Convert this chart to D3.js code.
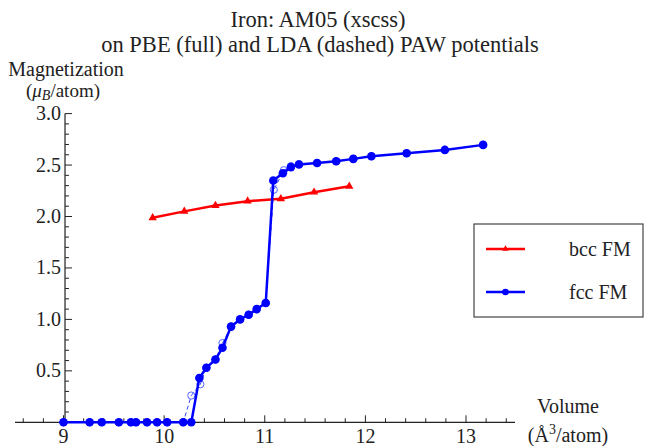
<!DOCTYPE html>
<html>
<head>
<meta charset="utf-8">
<script src="https://cdn.jsdelivr.net/npm/d3@7.9.0/dist/d3.min.js"></script>
<style>
  body { margin: 0; background: #fff; }
  svg { font-family: "Liberation Serif", "DejaVu Serif", serif; }
</style>
</head>
<body>
<svg id="chart" width="645" height="446"></svg>
<script>
// fcc FM, PBE (full line, filled circles)
const fccVol = [9.0, 9.26, 9.38, 9.55, 9.67, 9.72, 9.83, 9.93, 10.03, 10.19, 10.27,
    10.35, 10.42, 10.51, 10.58, 10.665, 10.755, 10.84, 10.92, 11.01,
    11.085, 11.18, 11.26, 11.34, 11.52, 11.71, 11.88, 12.06, 12.41, 12.79, 13.17];
const fccPBE = [0, 0, 0, 0, 0, 0, 0, 0, 0, 0, 0,
    0.43, 0.53, 0.61, 0.725, 0.93, 1.0, 1.045, 1.10, 1.16,
    2.35, 2.42, 2.48, 2.505, 2.52, 2.537, 2.56, 2.585, 2.615, 2.647, 2.696];
// fcc FM, LDA (dashed line, open circles)
const fccLdaVol = [9.0, 9.26, 9.38, 9.55, 9.67, 9.72, 9.83, 9.93, 10.03, 10.19,
    10.27, 10.36, 10.42, 10.51, 10.58, 10.665, 10.755, 10.84, 10.92, 11.01,
    11.09, 11.19, 11.26, 11.34, 11.52, 11.71, 11.88, 12.06, 12.41, 12.79, 13.17];
const fccLDA = [0, 0, 0, 0, 0, 0, 0, 0, 0, 0,
    0.26, 0.37, 0.53, 0.61, 0.77, 0.93, 1.0, 1.045, 1.10, 1.16,
    2.26, 2.45, 2.49, 2.51, 2.52, 2.537, 2.56, 2.585, 2.615, 2.647, 2.696];
// bcc FM
const bccVol = [9.886, 10.20, 10.51, 10.83, 11.16, 11.49, 11.84];
const bccMag = [1.987, 2.05, 2.107, 2.149, 2.172, 2.236, 2.294];

const xTicks = [9, 10, 11, 12, 13];
const yTicks = [0.5, 1.0, 1.5, 2.0, 2.5, 3.0];
const legendLabels = ["bcc FM", "fcc FM"];

const svg = d3.select("#chart");
const x = d3.scaleLinear().domain([9, 13]).range([63.5, 466]);
const y = d3.scaleLinear().domain([0, 3]).range([422.3, 113.6]);
const axisColor = "#222";
const y0 = y(0), xAxisAt = x(9.015);

// x axis
svg.append("line").attr("x1", 15).attr("x2", 515).attr("y1", y0).attr("y2", y0)
  .attr("stroke", axisColor).attr("stroke-width", 1.2);
const xMinor = d3.range(8.6, 13.45, 0.2).filter(v => Math.abs(v - Math.round(v)) > 0.01);
svg.selectAll(".xminor").data(xMinor).join("line")
  .attr("x1", d => x(d)).attr("x2", d => x(d)).attr("y1", y0).attr("y2", y0 - 4)
  .attr("stroke", axisColor).attr("stroke-width", 1);
svg.selectAll(".xmajor").data(xTicks).join("line")
  .attr("x1", d => x(d)).attr("x2", d => x(d)).attr("y1", y0).attr("y2", y0 - 7)
  .attr("stroke", axisColor).attr("stroke-width", 1);
svg.selectAll(".xlab").data(xTicks).join("text")
  .attr("x", d => x(d)).attr("y", 443).attr("text-anchor", "middle")
  .attr("font-size", 20).attr("fill", "#222").text(d => d);

// y axis
svg.append("line").attr("x1", xAxisAt).attr("x2", xAxisAt).attr("y1", y0).attr("y2", y(3))
  .attr("stroke", axisColor).attr("stroke-width", 1.2);
const yMinor = d3.range(1, 30).map(i => i / 10).filter(v => Math.abs(v * 2 - Math.round(v * 2)) > 0.01);
svg.selectAll(".yminor").data(yMinor).join("line")
  .attr("x1", xAxisAt).attr("x2", xAxisAt + 4).attr("y1", d => y(d)).attr("y2", d => y(d))
  .attr("stroke", axisColor).attr("stroke-width", 1);
svg.selectAll(".ymajor").data(yTicks).join("line")
  .attr("x1", xAxisAt).attr("x2", xAxisAt + 7).attr("y1", d => y(d)).attr("y2", d => y(d))
  .attr("stroke", axisColor).attr("stroke-width", 1);
svg.selectAll(".ylab").data(yTicks).join("text")
  .attr("x", 61).attr("y", d => y(d) + 6.5).attr("text-anchor", "end")
  .attr("font-size", 20).attr("fill", "#222").text(d => d.toFixed(1));

// titles and axis labels
svg.append("text").attr("x", 318).attr("y", 27).attr("text-anchor", "middle")
  .attr("font-size", 22.5).attr("fill", "#222").text("Iron: AM05 (xscss)");
svg.append("text").attr("x", 320).attr("y", 52).attr("text-anchor", "middle")
  .attr("font-size", 22.5).attr("fill", "#222").text("on PBE (full) and LDA (dashed) PAW potentials");

svg.append("text").attr("x", 66).attr("y", 76).attr("text-anchor", "middle")
  .attr("font-size", 20).attr("fill", "#222").text("Magnetization");
const yl = svg.append("text").attr("x", 63).attr("y", 97).attr("text-anchor", "middle")
  .attr("font-size", 19).attr("fill", "#222");
yl.append("tspan").text("(");
yl.append("tspan").attr("font-style", "italic").text("μ");
yl.append("tspan").attr("font-style", "italic").attr("font-size", 14).attr("dy", 3).text("B");
yl.append("tspan").attr("dy", -3).text("/atom)");

svg.append("text").attr("x", 568).attr("y", 413).attr("text-anchor", "middle")
  .attr("font-size", 20).attr("fill", "#222").text("Volume");
const xl = svg.append("text").attr("x", 568).attr("y", 442).attr("text-anchor", "middle")
  .attr("font-size", 20).attr("fill", "#222");
xl.append("tspan").text("(Å");
xl.append("tspan").attr("font-size", 14).attr("dy", -8).text("3");
xl.append("tspan").attr("dy", 8).text("/atom)");

// series
const line = d3.line().x(d => x(d[0])).y(d => y(d[1]));
const tri = d3.symbol().type(d3.symbolTriangle).size(30);

const fccL = fccLdaVol.map((v, i) => [v, fccLDA[i]]);
svg.append("path").datum(fccL).attr("d", line).attr("fill", "none")
  .attr("stroke", "#3344ff").attr("stroke-width", 1).attr("stroke-dasharray", "4,3");
svg.selectAll(".ldaPt").data(fccL).join("circle")
  .attr("cx", d => x(d[0])).attr("cy", d => y(d[1])).attr("r", 3.6)
  .attr("fill", "none").attr("stroke", "#5566ff").attr("stroke-width", 1);

const bcc = bccVol.map((v, i) => [v, bccMag[i]]);
svg.append("path").datum(bcc).attr("d", line).attr("fill", "none")
  .attr("stroke", "#ff0000").attr("stroke-width", 2.5);
svg.selectAll(".bccPt").data(bcc).join("path")
  .attr("d", tri).attr("transform", d => `translate(${x(d[0])},${y(d[1])})`)
  .attr("fill", "#ff0000");

const fcc = fccVol.map((v, i) => [v, fccPBE[i]]);
svg.append("path").datum(fcc).attr("d", line).attr("fill", "none")
  .attr("stroke", "#0000ff").attr("stroke-width", 2.5);
svg.selectAll(".fccPt").data(fcc).join("circle")
  .attr("cx", d => x(d[0])).attr("cy", d => y(d[1])).attr("r", 4.3)
  .attr("fill", "#0000ff");

// legend
const lg = svg.append("g");
lg.append("rect").attr("x", 474).attr("y", 224).attr("width", 169).attr("height", 93)
  .attr("fill", "#fff").attr("stroke", "#444").attr("stroke-width", 1.2);
const legendColors = ["#ff0000", "#0000ff"];
legendLabels.forEach((lab, i) => {
  const ly = 249 + i * 43;
  lg.append("line").attr("x1", 486).attr("x2", 525).attr("y1", ly).attr("y2", ly)
    .attr("stroke", legendColors[i]).attr("stroke-width", 2.5);
  if (i === 0) {
    lg.append("path").attr("d", d3.symbol().type(d3.symbolTriangle).size(18))
      .attr("transform", `translate(505.5,${ly})`).attr("fill", legendColors[i]);
  } else {
    lg.append("circle").attr("cx", 505.5).attr("cy", ly).attr("r", 3.3).attr("fill", legendColors[i]);
  }
  lg.append("text").attr("x", 569).attr("y", ly + 7).attr("font-size", 20)
    .attr("fill", "#222").text(lab);
});
</script>
</body>
</html>
